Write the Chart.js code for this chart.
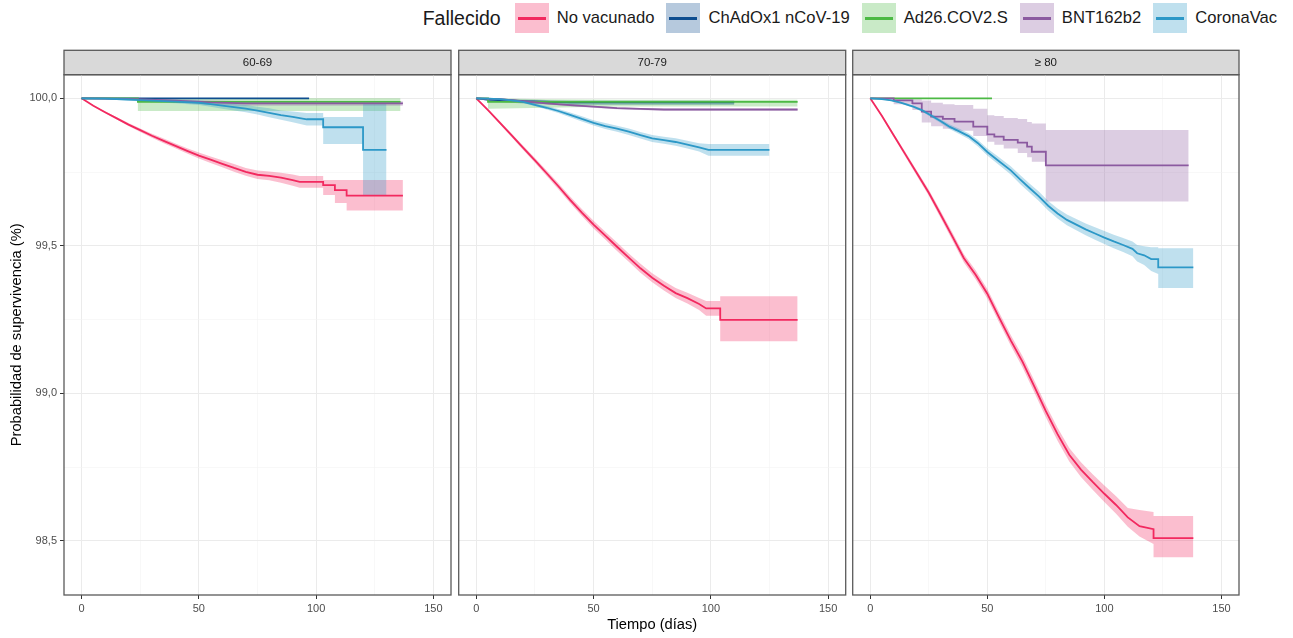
<!DOCTYPE html>
<html>
<head>
<meta charset="utf-8">
<script src="https://cdn.jsdelivr.net/npm/chart.js@4.4.1/dist/chart.umd.min.js"></script>
<style>
  body { margin: 0; background: #fff; width: 1293px; height: 638px; position: relative; overflow: hidden;
         font-family: "Liberation Sans", Arial, sans-serif; }
  .panel { position: absolute; top: 0; height: 638px; }
  #legend { position: absolute; top: 3px; right: 16px; height: 30px; display: flex; align-items: center; color: #1a1a1a; }
  #legend .ltitle { font-size: 19.5px; margin-right: 14px; }
  #legend .key { position: relative; width: 34px; height: 30px; margin-right: 8px; }
  #legend .key i { position: absolute; left: 3px; right: 3px; top: 14px; height: 2.5px; }
  #legend .lab { font-size: 16.6px; margin-right: 12px; }
  #legend .lab:last-child { margin-right: 0; }
</style>
</head>
<body>
<div id="legend"></div>
<div class="panel" style="left:0;width:453px"><canvas id="p0" width="453" height="638"></canvas></div>
<div class="panel" style="left:457px;width:390px"><canvas id="p1" width="390" height="638"></canvas></div>
<div class="panel" style="left:851px;width:390px"><canvas id="p2" width="390" height="638"></canvas></div>
<script>
// legend / facets
const seriesNames = ["No vacunado", "ChAdOx1 nCoV-19", "Ad26.COV2.S", "BNT162b2", "CoronaVac"];
const lineColors = ["#F2295F", "#0E4D8F", "#4CB944", "#8B5AA0", "#2C98C7"];
const ribbonColors = ["rgba(242,41,95,0.3)", "rgba(14,77,143,0.3)", "rgba(76,185,68,0.3)", "rgba(139,90,160,0.3)", "rgba(44,152,199,0.3)"];
const panelLabels = ["60-69", "70-79", "≥ 80"];

// ---- 60-69 ----
const t60NoVac = [0,5,10,15,20,25,30,35,40,45,50,55,60,65,70,75,80,85,90,93,103,103,108,108,113,113,137];
const s60NoVac = [100,99.975,99.953,99.932,99.911,99.892,99.873,99.856,99.839,99.822,99.806,99.792,99.778,99.764,99.751,99.741,99.737,99.731,99.723,99.717,99.717,99.706,99.706,99.689,99.689,99.670,99.670];
const hi60NoVac = [100,99.977,99.956,99.936,99.916,99.898,99.880,99.864,99.847,99.831,99.816,99.803,99.790,99.777,99.764,99.755,99.752,99.748,99.742,99.737,99.737,99.723,99.723,99.723,99.723,99.723,99.723];
const lo60NoVac = [100,99.973,99.950,99.928,99.906,99.886,99.866,99.848,99.831,99.813,99.796,99.781,99.766,99.751,99.738,99.727,99.722,99.714,99.704,99.697,99.697,99.672,99.672,99.645,99.645,99.620,99.620];

const t60Chad = [0,97];
const s60Chad = [100,100];

const t60Ad26 = [0,24,24,136];
const s60Ad26 = [100,100,99.988,99.988];
const hi60Ad26 = [100,100,100,100];
const lo60Ad26 = [100,100,99.957,99.957];

const t60Bnt = [0,20,40,55,70,137];
const s60Bnt = [100,99.998,99.992,99.986,99.983,99.983];
const hi60Bnt = [100,100,99.997,99.993,99.990,99.990];
const lo60Bnt = [100,99.995,99.986,99.978,99.975,99.975];

const t60Cvac = [0,10,20,25,30,40,50,55,60,65,70,75,80,85,90,96,103,103,120,120,130];
const s60Cvac = [100,99.999,99.996,99.994,99.992,99.989,99.985,99.980,99.975,99.970,99.965,99.958,99.951,99.943,99.937,99.929,99.929,99.902,99.902,99.825,99.825];
const hi60Cvac = [100,100,99.999,99.998,99.997,99.995,99.993,99.989,99.985,99.981,99.977,99.971,99.966,99.959,99.955,99.950,99.950,99.937,99.937,99.982,99.982];
const lo60Cvac = [100,99.997,99.992,99.990,99.987,99.983,99.977,99.971,99.965,99.959,99.953,99.945,99.936,99.927,99.919,99.908,99.908,99.845,99.845,99.672,99.672];

// ---- 70-79 ----
const t70NoVac = [0,5,10,15,20,25,30,35,40,45,50,55,60,65,70,75,80,85,90,95,98,104,104,137];
const s70NoVac = [100,99.960,99.918,99.875,99.832,99.790,99.746,99.702,99.656,99.613,99.572,99.535,99.497,99.460,99.424,99.392,99.365,99.340,99.323,99.303,99.288,99.288,99.249,99.249];
const hi70NoVac = [100,99.963,99.923,99.881,99.839,99.798,99.755,99.712,99.667,99.625,99.585,99.548,99.511,99.474,99.439,99.407,99.381,99.357,99.341,99.323,99.313,99.313,99.329,99.329];
const lo70NoVac = [100,99.957,99.913,99.869,99.825,99.782,99.737,99.692,99.645,99.601,99.559,99.522,99.483,99.446,99.409,99.377,99.349,99.323,99.305,99.283,99.263,99.263,99.177,99.177];

const t70Chad = [0,5,20,40,110];
const s70Chad = [100,99.996,99.990,99.986,99.986];
const hi70Chad = [100,100,99.996,99.993,99.993];
const lo70Chad = [100,99.990,99.982,99.977,99.977];

const t70Ad26 = [0,5,5,30,60,137];
const s70Ad26 = [100,100,99.988,99.988,99.988,99.988];
const hi70Ad26 = [100,100,100,99.997,99.995,99.995];
const lo70Ad26 = [100,100,99.965,99.968,99.972,99.972];

const t70Bnt = [0,10,20,30,40,50,60,70,80,137];
const s70Bnt = [100,99.997,99.990,99.983,99.977,99.972,99.967,99.964,99.962,99.962];
const hi70Bnt = [100,100,99.993,99.986,99.980,99.975,99.970,99.967,99.965,99.965];
const lo70Bnt = [100,99.993,99.986,99.979,99.973,99.968,99.963,99.960,99.958,99.958];

const t70Cvac = [0,5,10,15,20,25,30,35,40,45,50,55,60,65,70,75,80,85,90,95,99,125];
const s70Cvac = [100,99.999,99.997,99.993,99.988,99.978,99.968,99.957,99.944,99.930,99.917,99.906,99.897,99.887,99.875,99.864,99.858,99.852,99.843,99.834,99.825,99.825];
const hi70Cvac = [100,100,99.999,99.996,99.992,99.983,99.974,99.964,99.952,99.939,99.926,99.916,99.907,99.898,99.886,99.876,99.870,99.865,99.856,99.848,99.845,99.845];
const lo70Cvac = [100,99.998,99.995,99.990,99.984,99.973,99.962,99.950,99.936,99.921,99.908,99.896,99.887,99.876,99.864,99.852,99.846,99.839,99.830,99.820,99.805,99.805];

// ---- >= 80 ----
const t80NoVac = [0,5,10,15,20,25,30,35,40,45,50,55,60,65,70,75,80,85,90,95,100,105,110,115,121,121,138];
const s80NoVac = [100,99.940,99.875,99.810,99.745,99.680,99.607,99.533,99.458,99.402,99.338,99.258,99.180,99.108,99.025,98.940,98.862,98.792,98.742,98.700,98.660,98.622,98.580,98.550,98.540,98.510,98.510];
const hi80NoVac = [100,99.944,99.881,99.818,99.754,99.690,99.619,99.546,99.472,99.417,99.354,99.275,99.198,99.127,99.045,98.961,98.884,98.815,98.767,98.726,98.688,98.652,98.612,98.605,98.598,98.585,98.585];
const lo80NoVac = [100,99.936,99.869,99.802,99.736,99.670,99.595,99.520,99.444,99.387,99.322,99.241,99.162,99.089,99.005,98.919,98.840,98.769,98.717,98.674,98.632,98.592,98.548,98.515,98.490,98.445,98.445];

const t80Ad26 = [0,52];
const s80Ad26 = [100,100];

const t80Bnt = [0,10,10,18,18,22,22,26,26,31,31,36,36,44,44,50,50,53,53,57,57,63,63,67,67,69,69,75,75,136];
const s80Bnt = [100,100,99.993,99.993,99.983,99.983,99.955,99.955,99.938,99.938,99.930,99.930,99.921,99.921,99.904,99.904,99.878,99.878,99.870,99.870,99.859,99.859,99.850,99.850,99.836,99.836,99.819,99.819,99.773,99.773];
const hi80Bnt = [100,100,100,100,99.997,99.997,99.993,99.993,99.985,99.985,99.980,99.980,99.977,99.977,99.965,99.965,99.943,99.943,99.940,99.940,99.933,99.933,99.930,99.930,99.920,99.920,99.915,99.915,99.893,99.893];
const lo80Bnt = [100,100,99.980,99.980,99.960,99.960,99.918,99.918,99.905,99.905,99.897,99.897,99.890,99.890,99.872,99.872,99.853,99.853,99.843,99.843,99.830,99.830,99.815,99.815,99.800,99.800,99.785,99.785,99.650,99.650];

const t80Cvac = [0,5,9,13,18,22,26,30,34,38,42,46,50,55,60,64,68,72,76,80,84,88,92,96,100,104,108,112,114,117,120,123,123,138];
const s80Cvac = [100,99.997,99.993,99.985,99.973,99.960,99.942,99.923,99.903,99.888,99.872,99.848,99.818,99.787,99.756,99.725,99.696,99.668,99.636,99.610,99.588,99.572,99.556,99.542,99.528,99.515,99.503,99.490,99.475,99.468,99.455,99.455,99.427,99.427];
const hi80Cvac = [100,99.998,99.995,99.988,99.977,99.965,99.948,99.930,99.911,99.897,99.882,99.859,99.830,99.800,99.770,99.740,99.711,99.684,99.652,99.627,99.606,99.591,99.576,99.563,99.550,99.538,99.527,99.515,99.503,99.499,99.495,99.495,99.492,99.492];
const lo80Cvac = [100,99.996,99.991,99.982,99.969,99.955,99.936,99.916,99.895,99.879,99.862,99.837,99.806,99.774,99.742,99.710,99.681,99.652,99.620,99.593,99.570,99.553,99.536,99.521,99.506,99.492,99.479,99.465,99.447,99.435,99.415,99.405,99.357,99.357];

// series per panel, in legend order (null = no data in that group)
const panels = [
  [
    { t: t60NoVac, s: s60NoVac, hi: hi60NoVac, lo: lo60NoVac },
    { t: t60Chad, s: s60Chad, hi: s60Chad, lo: s60Chad },
    { t: t60Ad26, s: s60Ad26, hi: hi60Ad26, lo: lo60Ad26 },
    { t: t60Bnt, s: s60Bnt, hi: hi60Bnt, lo: lo60Bnt },
    { t: t60Cvac, s: s60Cvac, hi: hi60Cvac, lo: lo60Cvac },
  ],
  [
    { t: t70NoVac, s: s70NoVac, hi: hi70NoVac, lo: lo70NoVac },
    { t: t70Chad, s: s70Chad, hi: hi70Chad, lo: lo70Chad },
    { t: t70Ad26, s: s70Ad26, hi: hi70Ad26, lo: lo70Ad26 },
    { t: t70Bnt, s: s70Bnt, hi: hi70Bnt, lo: lo70Bnt },
    { t: t70Cvac, s: s70Cvac, hi: hi70Cvac, lo: lo70Cvac },
  ],
  [
    { t: t80NoVac, s: s80NoVac, hi: hi80NoVac, lo: lo80NoVac },
    null,
    { t: t80Ad26, s: s80Ad26, hi: s80Ad26, lo: s80Ad26 },
    { t: t80Bnt, s: s80Bnt, hi: hi80Bnt, lo: lo80Bnt },
    { t: t80Cvac, s: s80Cvac, hi: hi80Cvac, lo: lo80Cvac },
  ],
];

// ---- legend (html) ----
const legend = document.getElementById("legend");
legend.innerHTML = '<span class="ltitle">Fallecido</span>' +
  seriesNames.map((n, i) =>
    '<span class="key" style="background:' + ribbonColors[i] + '"><i style="background:' + lineColors[i] + '"></i></span>' +
    '<span class="lab">' + n + '</span>').join("");

Chart.defaults.font.family = '"Liberation Sans", Arial, sans-serif';

const isMajor = (v, step) => Math.abs(v / step - Math.round(v / step)) < 1e-6;
const STRIP_TOP = 50.3;

// grey facet strip above each panel + panel border on top of the data
const panelPlugin = {
  id: "panelDeco",
  beforeDraw(chart) {
    const { ctx, chartArea: a } = chart;
    ctx.save();
    ctx.fillStyle = "#d9d9d9";
    ctx.fillRect(a.left, STRIP_TOP, a.right - a.left, a.top - STRIP_TOP);
    ctx.strokeStyle = "#5a5a5a";
    ctx.lineWidth = 1.3;
    ctx.strokeRect(a.left, STRIP_TOP, a.right - a.left, a.top - STRIP_TOP);
    ctx.restore();
  },
  afterDatasetsDraw(chart) {
    const { ctx, chartArea: a } = chart;
    ctx.save();
    ctx.strokeStyle = "#5a5a5a";
    ctx.lineWidth = 1.3;
    ctx.strokeRect(a.left, a.top, a.right - a.left, a.bottom - a.top);
    ctx.restore();
  },
};

function buildDatasets(series) {
  const ds = [];
  // confidence ribbons: upper filled down to lower
  series.forEach((s, i) => {
    if (!s) return;
    ds.push({
      data: s.t.map((x, k) => ({ x: x, y: s.hi[k] })),
      fill: "+1", backgroundColor: ribbonColors[i],
      borderWidth: 0, borderColor: "rgba(0,0,0,0)", pointRadius: 0, order: 20 - i,
    });
    ds.push({
      data: s.t.map((x, k) => ({ x: x, y: s.lo[k] })),
      fill: false, borderWidth: 0, borderColor: "rgba(0,0,0,0)", pointRadius: 0, order: 20 - i,
    });
  });
  series.forEach((s, i) => {
    if (!s) return;
    ds.push({
      label: seriesNames[i],
      data: s.t.map((x, k) => ({ x: x, y: s.s[k] })),
      fill: false, borderColor: lineColors[i], borderWidth: 1.8,
      pointRadius: 0, tension: 0, order: 10 - i,
    });
  });
  return ds;
}

const pads = [
  { left: 0, right: 2, top: STRIP_TOP, bottom: 0 },
  { left: 1.7, right: 1.3, top: STRIP_TOP, bottom: 0 },
  { left: 1.7, right: 2, top: STRIP_TOP, bottom: 0 },
];

panels.forEach((series, idx) => {
  const ctx = document.getElementById("p" + idx).getContext("2d");
  new Chart(ctx, {
    type: "line",
    data: { datasets: buildDatasets(series) },
    plugins: [panelPlugin],
    options: {
      responsive: false,
      animation: false,
      layout: { padding: pads[idx] },
      plugins: {
        legend: { display: false },
        tooltip: { enabled: false },
        title: {
          display: true,
          text: panelLabels[idx],
          fullSize: false,
          color: "#1a1a1a",
          font: { size: 11.5, weight: "normal" },
          padding: { top: 5.3, bottom: 5.3 },
        },
      },
      scales: {
        x: {
          type: "linear",
          min: -7.5,
          max: 157.5,
          border: { display: false },
          ticks: {
            stepSize: 25,
            includeBounds: false,
            autoSkip: false,
            maxRotation: 0,
            padding: 3,
            color: "#4d4d4d",
            font: { size: 11 },
            callback: (v) => (isMajor(v, 50) ? String(v) : ""),
          },
          grid: {
            color: (c) => (c.tick && isMajor(c.tick.value, 50) ? "#ebebeb" : "#f3f3f3"),
            lineWidth: (c) => (c.tick && isMajor(c.tick.value, 50) ? 1 : 0.6),
            tickColor: (c) => (c.tick && isMajor(c.tick.value, 50) ? "#333" : "rgba(0,0,0,0)"),
            tickLength: 4,
          },
          title: {
            display: idx === 1,
            text: "Tiempo (días)",
            color: "#000",
            font: { size: 14.7 },
            padding: { top: 0, bottom: 4.2 },
          },
          afterFit: (s) => { s.height = 43; },
        },
        y: {
          min: 98.317,
          max: 100.08,
          border: { display: false },
          ticks: {
            display: idx === 0,
            stepSize: 0.25,
            includeBounds: false,
            padding: 3,
            color: "#4d4d4d",
            font: { size: 11 },
            callback: (v) => (isMajor(v, 0.5) ? v.toFixed(1).replace(".", ",") : ""),
          },
          grid: {
            drawTicks: idx === 0,
            color: (c) => (c.tick && isMajor(c.tick.value, 0.5) ? "#ebebeb" : "#f3f3f3"),
            lineWidth: (c) => (c.tick && isMajor(c.tick.value, 0.5) ? 1 : 0.6),
            tickColor: (c) => (c.tick && isMajor(c.tick.value, 0.5) ? "#333" : "rgba(0,0,0,0)"),
            tickLength: 4,
          },
          title: {
            display: idx === 0,
            text: "Probabilidad de supervivencia (%)",
            color: "#000",
            font: { size: 14.7 },
            padding: { top: 8, bottom: 0 },
          },
          afterFit: (s) => { s.width = idx === 0 ? 64 : 0; },
        },
      },
    },
  });
});
</script>
</body>
</html>
